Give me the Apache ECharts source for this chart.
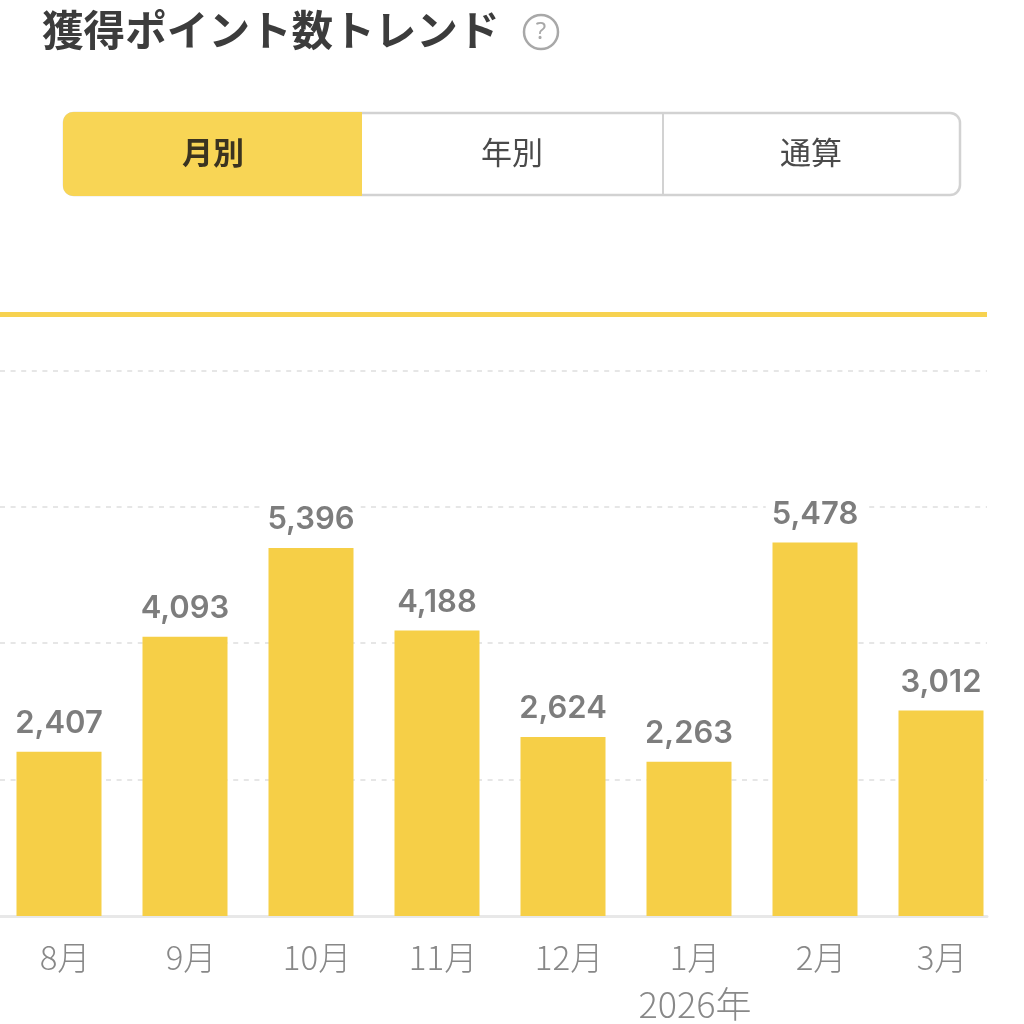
<!DOCTYPE html>
<html><head><meta charset="utf-8">
<style>html,body{margin:0;padding:0;background:#fff}#c{width:1024px;height:1024px}</style>
<script src="https://cdn.jsdelivr.net/npm/echarts@6/dist/echarts.min.js"></script>
</head><body><div id="c"></div>
<script>
const titleText = '獲得ポイント数トレンド';
const tabLabels = ['月別', '年別', '通算'];
const categories = ['8月', '9月', '10月', '11月', '12月', '1月\n2026年', '2月', '3月'];
const values = [2407, 4093, 5396, 4188, 2624, 2263, 5478, 3012];
const goalValue = 8830;
const yMax = 10000;
const yInterval = 2000;

const JP = '"Noto Sans CJK JP","Noto Sans",sans-serif';
const gridTop = 234, gridHeight = 682;
const chart = echarts.init(document.getElementById('c'), null, {renderer: 'canvas'});
chart.setOption({
  animation: false,
  backgroundColor: '#ffffff',
  title: {
    text: titleText, left: 37, top: 4,
    textStyle: {fontFamily: JP, fontSize: 41.6, fontWeight: 700, color: '#3c3c3c'}
  },
  grid: [
    {left: -4, top: gridTop, width: 1008, height: gridHeight, outerBoundsMode: 'none', containLabel: false},
    {left: 0, top: gridTop, width: 987, height: gridHeight, outerBoundsMode: 'none', containLabel: false}
  ],
  xAxis: [
    {
      type: 'category', gridIndex: 0, z: 5,
      data: categories.map((c, i) => i === categories.length - 1 ? {value: c, textStyle: {padding: [0, 0, 0, 2]}} : c),
      axisLine: {show: false}, axisTick: {show: false},
      axisLabel: {
        interval: 0, margin: 18, color: '#888888', fontSize: 33, lineHeight: 47,
        fontFamily: JP, fontWeight: 300, verticalAlign: 'top', padding: [0, 0, 0, 12],
        formatter: v => {
          const parts = v.split('\n');
          return parts[1] ? parts[0] + '\n{y|' + parts[1] + '}' : v;
        },
        rich: {y: {fontSize: 36, lineHeight: 47, color: '#888888', fontFamily: JP, fontWeight: 300}}
      }
    },
    {
      type: 'value', gridIndex: 1, min: 0, max: 1,
      splitLine: {show: false}, axisTick: {show: false}, axisLabel: {show: false},
      axisLine: {show: true, onZero: false, lineStyle: {color: '#e8e8e8', width: 3}}
    }
  ],
  yAxis: [
    {type: 'value', gridIndex: 0, min: 0, max: yMax, interval: yInterval, show: false, splitLine: {show: false}},
    {
      type: 'value', gridIndex: 1, min: 0, max: yMax, interval: yInterval,
      axisLine: {show: false}, axisTick: {show: false}, axisLabel: {show: false},
      splitLine: {show: true, showMaxLine: false, showMinLine: false, lineStyle: {color: '#e6e6e6', width: 2, type: [5, 5.6]}}
    }
  ],
  series: [
    {
      type: 'bar', xAxisIndex: 0, yAxisIndex: 0, data: values, barWidth: 85, z: 3,
      itemStyle: {color: '#f6cf47'},
      label: {
        show: true, position: 'top', distance: 10,
        formatter: p => p.value.toLocaleString('en-US'),
        color: '#7d7d7d', fontSize: 31, fontWeight: 600, fontFamily: 'Inter,"Noto Sans",sans-serif',
        backgroundColor: '#ffffff', padding: [0, 6, 0, 6], lineHeight: 36
      }
    },
    {
      type: 'line', xAxisIndex: 1, yAxisIndex: 1, data: [], silent: true, z: 2,
      markLine: {
        silent: true, symbol: 'none', label: {show: false}, animation: false,
        lineStyle: {color: '#f7d250', width: 5, type: 'solid'},
        data: [{yAxis: goalValue}]
      }
    }
  ],
  graphic: [
    {type: 'circle', shape: {cx: 541, cy: 32, r: 17}, style: {fill: '#fff', stroke: '#a8a8a8', lineWidth: 2.5}},
    {type: 'text', x: 541, y: 32, style: {text: '?', fill: '#a8a8a8', font: '400 24px "Noto Sans",sans-serif', align: 'center', verticalAlign: 'middle'}},
    {type: 'rect', shape: {x: 64, y: 113, width: 896, height: 82, r: 10}, style: {fill: '#fff', stroke: '#d2d2d2', lineWidth: 2.5}},
    {type: 'rect', shape: {x: 63, y: 112, width: 299, height: 84, r: [10, 0, 0, 10]}, style: {fill: '#f8d555'}},
    {type: 'line', shape: {x1: 663, y1: 114, x2: 663, y2: 194}, style: {stroke: '#d2d2d2', lineWidth: 2}},
    {type: 'text', x: 213, y: 152, style: {text: tabLabels[0], fill: '#3a3320', font: '700 31px ' + JP, align: 'center', verticalAlign: 'middle'}},
    {type: 'text', x: 512, y: 152, style: {text: tabLabels[1], fill: '#4a4a4a', font: '400 31px ' + JP, align: 'center', verticalAlign: 'middle'}},
    {type: 'text', x: 811, y: 152, style: {text: tabLabels[2], fill: '#4a4a4a', font: '400 31px ' + JP, align: 'center', verticalAlign: 'middle'}}
  ]
});
</script></body></html>
